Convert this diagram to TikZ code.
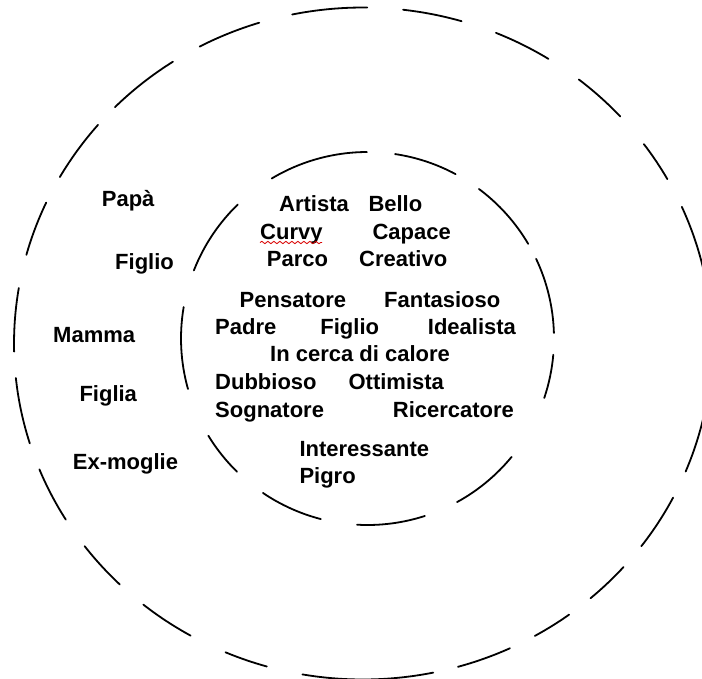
\documentclass[tikz,border=0pt]{standalone}
\usepackage{fontspec}
\setmainfont{Liberation Sans}
\usetikzlibrary{decorations.pathmorphing}
\tikzset{
  lbl/.style={anchor=base west, inner sep=0pt, font=\fontsize{22}{26}\selectfont\bfseries},
  ring/.style={line width=1.8pt, line cap=round, draw=black},
  wavy/.style={draw=red!85!black, line width=0.8pt, decorate, decoration={snake, segment length=6pt, amplitude=1.2pt}}
}
\begin{document}
\begin{tikzpicture}[x=1pt,y=-1pt]
\useasboundingbox (0,0) rectangle (702,678);
\fill[white] (0,0) rectangle (702,678);
\coordinate (O) at (363,343.5);
\coordinate (I) at (367.5,338.5);
% outer dashed ring
\foreach \s/\e in {258.3/270.7, 276.6/286.4, 292.4/302.1, 308.2/317.5, 323.6/330.7, 336/347, 10/22.4, 27.3/37.1, 41.7/49.3, 53.8/60.5, 65.1/74.2, 78.4/100, 106/113.2, 119.6/129, 134.2/142.9, 148.4/158, 162.7/174.1, 178.6/189.5, 195.3/204.8, 209.7/220.6, 224.7/237, 242.1/252.7}
  \draw[ring] (O) ++(\s:349 and 336) arc[start angle=\s, end angle=\e, x radius=349, y radius=336];
% inner dashed ring
\foreach \s/\e in {239.1/269.8, 278.5/298.2, 306.7/329.5, 334.7/358.3, 5/18.6, 39.4/61.3, 72.1/93.2, 104.5/124.1, 134.4/148.6, 164.3/189.7, 201.4/225.9}
  \draw[ring] (I) ++(\s:186.5 and 186.5) arc[start angle=\s, end angle=\e, x radius=186.5, y radius=186.5];
% outer ring labels
\node[lbl] (papa) at (101.7,206) {Papà};
\node[lbl] (figlioL) at (115,269.3) {Figlio};
\node[lbl] (mamma) at (53,342.3) {Mamma};
\node[lbl] (figlia) at (79.3,401.7) {Figlia};
\node[lbl] (exmoglie) at (72.7,469) {Ex-moglie};
% inner labels
\node[lbl] (artista) at (279,211.7) {Artista};
\node[lbl] (bello) at (368.3,211.7) {Bello};
\node[lbl] (curvy) at (260,239) {Curvy};
\node[lbl] (capace) at (372.3,239) {Capace};
\node[lbl] (parco) at (266.7,266.7) {Parco};
\node[lbl] (creativo) at (359,266.7) {Creativo};
\node[lbl] (pensatore) at (239.5,307) {Pensatore};
\node[lbl] (fantasioso) at (384,307) {Fantasioso};
\node[lbl] (padre) at (215,334) {Padre};
\node[lbl] (figlio) at (320.2,334) {Figlio};
\node[lbl] (idealista) at (427.7,334) {Idealista};
\node[lbl] (calore) at (270,361.7) {In cerca di calore};
\node[lbl] (dubbioso) at (215,389.5) {Dubbioso};
\node[lbl] (ottimista) at (348.4,389.5) {Ottimista};
\node[lbl] (sognatore) at (215,417) {Sognatore};
\node[lbl] (ricercatore) at (392.7,417) {Ricercatore};
\node[lbl] (interessante) at (299.3,456.7) {Interessante};
\node[lbl] (pigro) at (299.3,483.3) {Pigro};
% spell-check underline
\coordinate (w1) at (260,242.5);
\coordinate (w2) at (322,242.5);
\draw[wavy] (w1) -- (w2);
\end{tikzpicture}
\end{document}
